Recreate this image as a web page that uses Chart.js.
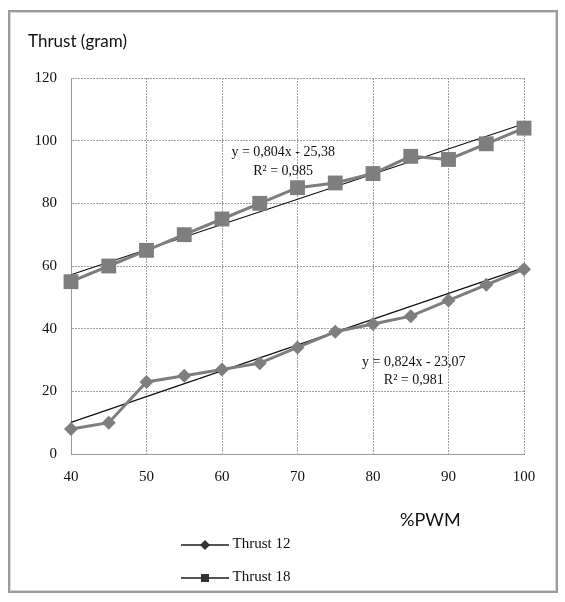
<!DOCTYPE html>
<html>
<head>
<meta charset="utf-8">
<script src="https://cdn.jsdelivr.net/npm/chart.js@4/dist/chart.umd.min.js"></script>
<style>
  body { margin: 0; background: #fff; }
  #wrap { position: relative; width: 565px; height: 602px; }
  #frame { position: absolute; left: 8px; top: 10px; width: 546px; height: 579px;
           border: 2px solid #9b9b9b; box-shadow: inset 0 0 0 1px #d8d8d8; }
  .txt { position: absolute; color: #111; white-space: nowrap; }
  #ytitle { left: 28px; top: 30px; font: 17px Lato, "Open Sans", sans-serif; }
  #xtitle { left: 400px; top: 508px; font: 18px Lato, "Open Sans", sans-serif; }
  .leg { position: absolute; left: 181px; font: 15px "Liberation Serif", serif; color: #111; }
  .leg canvas { vertical-align: middle; }
  #c { position: absolute; left: 0; top: 0; }
</style>
</head>
<body>
<div id="wrap">
  <div id="frame"></div>
  <canvas id="c" width="565" height="602"></canvas>
  <div class="txt" id="ytitle">Thrust (gram)</div>
  <div class="txt" id="xtitle">%PWM</div>
  <div class="leg" style="top:535px"><canvas id="leg12" width="48" height="20"></canvas> Thrust 12</div>
  <div class="leg" style="top:568px"><canvas id="leg18" width="48" height="20"></canvas> Thrust 18</div>
</div>
<script>
// datos
const pwm = [40, 45, 50, 55, 60, 65, 70, 75, 80, 85, 90, 95, 100];
const thrust12 = [8, 10, 23, 25, 27, 29, 34, 39, 41.5, 44, 49, 54, 59];
const thrust18 = [55, 60, 65, 70, 75, 80, 85, 86.5, 89.5, 95, 94, 99, 104];
// lineas de tendencia (extremos leidos)
const trendX = [40, 100];
const trend12 = [10.1, 59.5];
const trend18 = [57.2, 105.4];
const xTicks = [40, 50, 60, 70, 80, 90, 100];
const yTicks = [0, 20, 40, 60, 80, 100, 120];

const gris = '#7e7e7e';
const toXY = (xs, ys) => xs.map((x, i) => ({ x: x, y: ys[i] }));

// etiquetas de las ecuaciones
const etiquetas = [
  { x: 68.1, y: 96.3, texto: 'y = 0,804x - 25,38' },
  { x: 68.1, y: 90.2, texto: 'R² = 0,985' },
  { x: 85.4, y: 29.3, texto: 'y = 0,824x - 23,07' },
  { x: 85.4, y: 23.6, texto: 'R² = 0,981' }
];

const pluginEtiquetas = {
  id: 'etiquetas',
  afterDatasetsDraw(chart) {
    const ctx = chart.ctx;
    const sx = chart.scales.x, sy = chart.scales.y;
    ctx.save();
    ctx.font = '14px "Liberation Serif", serif';
    ctx.fillStyle = '#111';
    ctx.textAlign = 'center';
    ctx.textBaseline = 'middle';
    etiquetas.forEach(e => ctx.fillText(e.texto, sx.getPixelForValue(e.x), sy.getPixelForValue(e.y)));
    ctx.restore();
  }
};

const fuenteTicks = { family: '"Liberation Serif", serif', size: 15 };

new Chart(document.getElementById('c'), {
  type: 'line',
  data: {
    datasets: [
      { label: 'Thrust 12', data: toXY(pwm, thrust12), borderColor: gris, backgroundColor: gris,
        borderWidth: 3, pointStyle: 'rectRot', pointRadius: 7, pointBorderWidth: 0, tension: 0, clip: false },
      { label: 'Thrust 18', data: toXY(pwm, thrust18), borderColor: gris, backgroundColor: gris,
        borderWidth: 3, pointStyle: 'rect', pointRadius: 10.5, pointBorderWidth: 0, tension: 0, clip: false },
      { label: 'trend12', data: toXY(trendX, trend12), borderColor: '#111', borderWidth: 1.2,
        pointRadius: 0, clip: false },
      { label: 'trend18', data: toXY(trendX, trend18), borderColor: '#111', borderWidth: 1.2,
        pointRadius: 0, clip: false }
    ]
  },
  options: {
    responsive: false,
    animation: false,
    layout: { padding: { top: 78, right: 41, bottom: 0, left: 0 } },
    plugins: { legend: { display: false }, tooltip: { enabled: false } },
    scales: {
      x: {
        type: 'linear', min: 40, max: 100,
        afterFit: s => { s.height = 148; },
        afterBuildTicks: s => { s.ticks = xTicks.map(v => ({ value: v })); },
        grid: { color: '#a0a0a0', drawTicks: false },
        border: { color: '#9a9a9a', dash: [2, 1] },
        ticks: { color: '#111', padding: 14, font: fuenteTicks }
      },
      y: {
        min: 0, max: 120,
        afterFit: s => { s.width = 71; },
        afterBuildTicks: s => { s.ticks = yTicks.map(v => ({ value: v })); },
        grid: { color: '#a0a0a0', drawTicks: false },
        border: { color: '#9a9a9a', dash: [2, 1] },
        ticks: { color: '#111', padding: 14, font: fuenteTicks }
      }
    }
  },
  plugins: [pluginEtiquetas]
});

// leyenda dibujada a mano
function dibujarLeyenda(id, forma) {
  const ctx = document.getElementById(id).getContext('2d');
  ctx.strokeStyle = '#555';
  ctx.lineWidth = 2;
  ctx.beginPath(); ctx.moveTo(0, 10); ctx.lineTo(48, 10); ctx.stroke();
  ctx.fillStyle = '#333';
  ctx.beginPath();
  if (forma === 'rombo') {
    ctx.moveTo(24, 5); ctx.lineTo(29, 10); ctx.lineTo(24, 15); ctx.lineTo(19, 10);
  } else {
    ctx.rect(20, 6, 8, 8);
  }
  ctx.fill();
}
dibujarLeyenda('leg12', 'rombo');
dibujarLeyenda('leg18', 'cuadro');
</script>
</body>
</html>
